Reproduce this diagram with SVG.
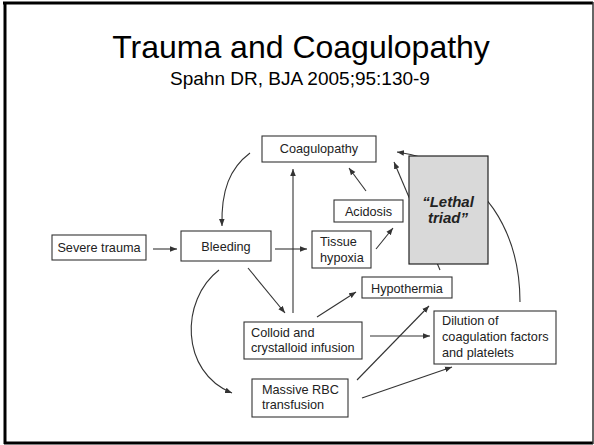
<svg xmlns="http://www.w3.org/2000/svg" width="594" height="445" viewBox="0 0 594 445">
<style>
  .box { fill: #fff; stroke: #333; stroke-width: 1.1; }
  .tri { fill: #d9d9d9; stroke: #222; stroke-width: 1.2; }
  .lbl { font-family: "Liberation Sans", Arial, sans-serif; font-size: 12.7px; fill: #222; }
  .c { fill: none; stroke: #333; stroke-width: 1.1; marker-end: url(#ah); }
  .cn { fill: none; stroke: #333; stroke-width: 1.1; }
</style>
<defs>
  <marker id="ah" viewBox="0 0 10 10" refX="10" refY="5" markerWidth="7" markerHeight="7" markerUnits="userSpaceOnUse" orient="auto">
    <path d="M0,1 L10,5 L0,9 z" fill="#333"/>
  </marker>
</defs>
<rect x="0" y="0" width="594" height="445" fill="#fff"/>
<g id="frame">
  <line x1="3" y1="3" x2="593" y2="3" stroke="#000" stroke-width="3"/>
  <line x1="5" y1="2" x2="5" y2="444" stroke="#000" stroke-width="3"/>
  <line x1="4" y1="443" x2="593" y2="443" stroke="#000" stroke-width="3"/>
  <line x1="593" y1="2" x2="593" y2="444" stroke="#333" stroke-width="1.5"/>
</g>
<g id="title">
  <text x="301" y="58" text-anchor="middle" font-family="'Liberation Sans', Arial, sans-serif" font-size="32" fill="#000">Trauma and Coagulopathy</text>
  <text x="300" y="85" text-anchor="middle" font-family="'Liberation Sans', Arial, sans-serif" font-size="19" fill="#000">Spahn DR, BJA 2005;95:130-9</text>
</g>
<g id="connectors">
  <path class="c" d="M153,249 L177,249"/>
  <path class="c" d="M250,153 C230,168 221,190 222,226"/>
  <path class="c" d="M275,249 L307,249"/>
  <path class="c" d="M293,313 L293,169"/>
  <path class="c" d="M248,268 L285,313"/>
  <path class="c" d="M219,270 C180,300 180,372 232,393"/>
  <path class="c" d="M376,249 L393,228"/>
  <path class="c" d="M366,191 L349,168"/>
  <path class="c" d="M440,270 L394,162"/>
  <path class="c" d="M520,302 C520,240 490,165 397,152"/>
  <path class="c" d="M317,317 L356,292"/>
  <path class="c" d="M370,336 L430,336"/>
  <path class="c" d="M357,380 L429,306"/>
  <path class="c" d="M362,398 L452,367"/>
</g>
<g id="severe-trauma">
  <rect class="box" x="52" y="235" width="94" height="25"/>
  <text class="lbl" x="99" y="252" text-anchor="middle">Severe trauma</text>
</g>
<g id="bleeding">
  <rect class="box" x="181" y="231" width="90" height="30"/>
  <text class="lbl" x="226" y="251" text-anchor="middle">Bleeding</text>
</g>
<g id="coagulopathy">
  <rect class="box" x="262" y="136" width="114" height="26"/>
  <text class="lbl" x="319" y="153" text-anchor="middle">Coagulopathy</text>
</g>
<g id="acidosis">
  <rect class="box" x="334" y="200" width="69" height="22"/>
  <text class="lbl" x="368.5" y="216" text-anchor="middle">Acidosis</text>
</g>
<g id="tissue-hypoxia">
  <rect class="box" x="312" y="231" width="59" height="37"/>
  <text class="lbl" x="320" y="246">Tissue</text>
  <text class="lbl" x="320" y="262">hypoxia</text>
</g>
<g id="lethal-triad">
  <rect class="tri" x="409" y="156" width="79" height="108"/>
  <text x="448" y="207" text-anchor="middle" font-family="'Liberation Sans', Arial, sans-serif" font-size="15" font-weight="bold" font-style="italic" fill="#222">“Lethal</text>
  <text x="448" y="223" text-anchor="middle" font-family="'Liberation Sans', Arial, sans-serif" font-size="15" font-weight="bold" font-style="italic" fill="#222">triad”</text>
</g>
<g id="hypothermia">
  <rect class="box" x="362" y="277" width="90" height="21"/>
  <text class="lbl" x="371" y="293">Hypothermia</text>
</g>
<g id="colloid">
  <rect class="box" x="244" y="322" width="118" height="37"/>
  <text class="lbl" x="251" y="337">Colloid and</text>
  <text class="lbl" x="251" y="352">crystalloid infusion</text>
</g>
<g id="dilution">
  <rect class="box" x="434" y="311" width="122" height="53"/>
  <text class="lbl" x="442" y="325">Dilution of</text>
  <text class="lbl" x="442" y="341">coagulation factors</text>
  <text class="lbl" x="442" y="357">and platelets</text>
</g>
<g id="massive-rbc">
  <rect class="box" x="252" y="379" width="96" height="38"/>
  <text class="lbl" x="262" y="394">Massive RBC</text>
  <text class="lbl" x="262" y="409">transfusion</text>
</g>
</svg>
